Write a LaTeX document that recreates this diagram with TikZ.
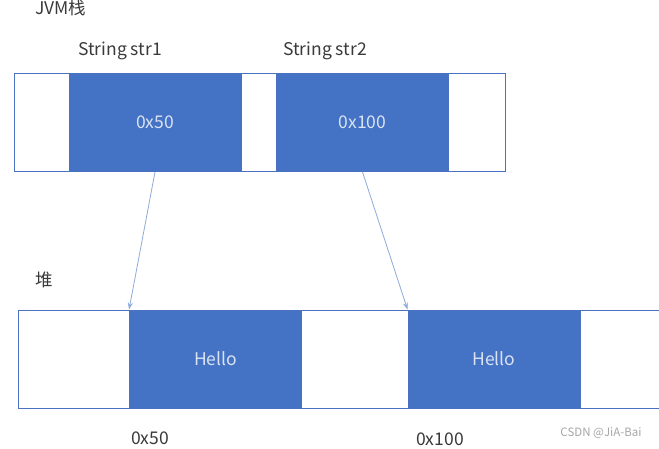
\documentclass[tikz,border=0pt]{standalone}
\usepackage{fontspec}
\setmainfont{Noto Sans CJK SC}
\definecolor{cellblue}{HTML}{4472C4}
\definecolor{cellline}{HTML}{4A72C0}
\definecolor{celltext}{HTML}{DAE3F3}
\definecolor{labeltext}{HTML}{3A3A3A}
\definecolor{ptrline}{HTML}{8FAADC}
\tikzset{
    frame/.style={draw=cellline, line width=0.9pt, fill=white, rectangle, inner sep=0pt},
    slot/.style={draw=cellline, line width=0.9pt, fill=cellblue, rectangle, inner sep=0pt,
        minimum width=172pt, minimum height=98pt, text=celltext, font=\fontsize{17.5}{20}\selectfont},
    tag/.style={text=labeltext, inner sep=0pt, font=\fontsize{17.5}{20}\selectfont},
    ptr/.style={draw=ptrline, line width=0.8pt, -{Stealth[length=7pt, width=5pt]}}
}
\usetikzlibrary{arrows.meta}
\begin{document}
\begin{tikzpicture}[x=1pt, y=-1pt]
    \fill[white] (0,0) rectangle (659,448);
    \useasboundingbox (0,0) rectangle (659,448);
    \clip (0,0) rectangle (659,448);

    % JVM stack
    \node[tag, anchor=west] (stacklbl) at (35,8) {JVM栈};
    \node[frame, minimum width=491pt, minimum height=98pt] (stack) at (259.5,122.5) {};
    \node[slot] (ref1) at (155,122.5) {0x50};
    \node[slot] (ref2) at (362.5,122.5) {0x100};
    \node[tag] (var1) at (120,51) {String str1};
    \node[tag] (var2) at (325,51) {String str2};

    % heap
    \node[tag] (heaplbl) at (44,280) {堆};
    \node[frame, minimum width=660pt, minimum height=98pt] (heap) at (348,359) {};
    \node[slot] (obj1) at (215.5,359) {Hello};
    \node[slot] (obj2) at (494,359) {Hello};
    \node[tag] (addr1) at (150,438) {0x50};
    \node[tag] (addr2) at (440,439) {0x100};

    \draw[ptr] (ref1.south) -- (obj1.north west);
    \draw[ptr] (ref2.south) -- (obj2.north west);

    \node[text=gray!70, font=\fontsize{11.5}{13}\selectfont] (mark) at (601,433) {CSDN @JiA-Bai};
\end{tikzpicture}
\end{document}
